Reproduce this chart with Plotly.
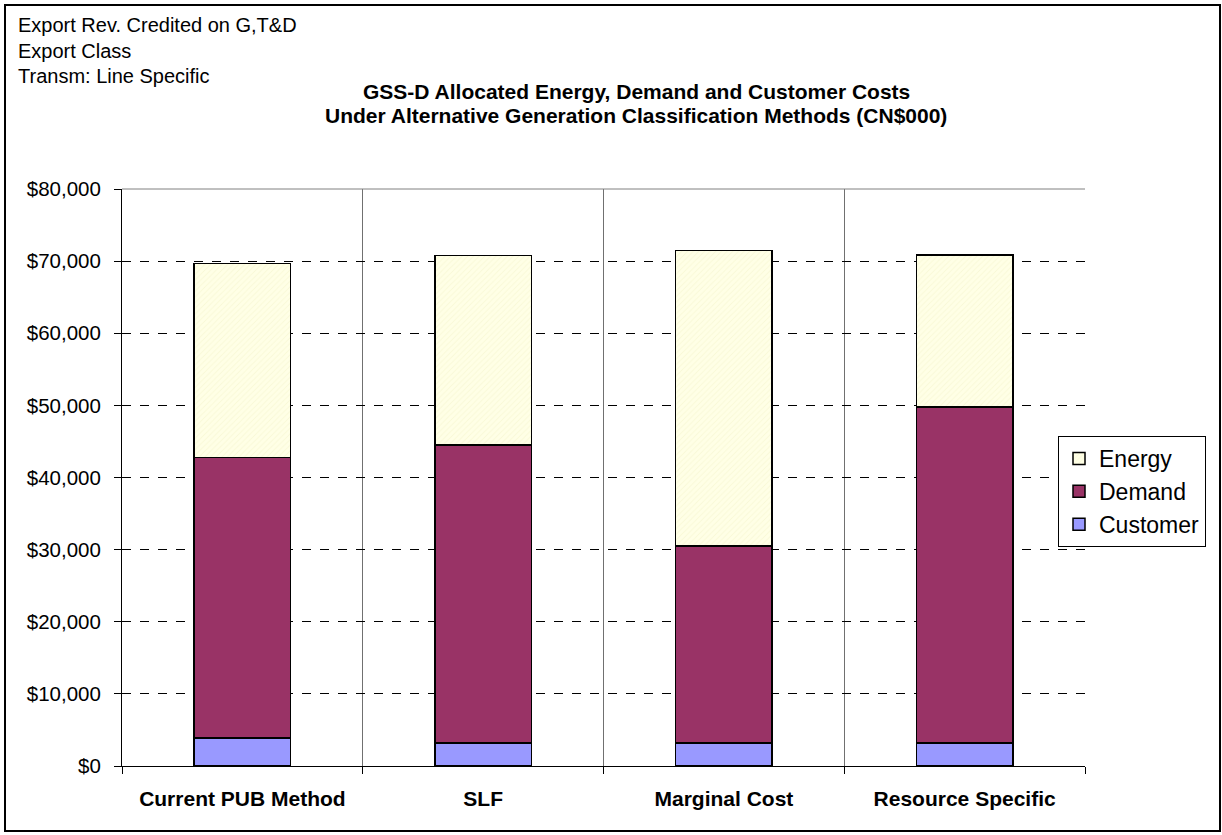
import plotly.graph_objects as go

categories = ["Current PUB Method", "SLF", "Marginal Cost", "Resource Specific"]
customer = [3900, 3200, 3200, 3200]
demand = [38900, 41300, 27300, 46600]
energy = [26900, 26250, 40950, 21050]
y_ticks = [0, 10000, 20000, 30000, 40000, 50000, 60000, 70000, 80000]
y_labels = ["$0", "$10,000", "$20,000", "$30,000", "$40,000", "$50,000", "$60,000", "$70,000", "$80,000"]
notes = ["Export Rev. Credited on G,T&D", "Export Class", "Transm: Line Specific"]
title_lines = ["GSS-D Allocated Energy, Demand and Customer Costs",
               "Under Alternative Generation Classification Methods (CN$000)"]

xpos = list(range(len(categories)))
FONT = "Liberation Sans, Arial, sans-serif"

# plot area in pixels
L, R, T, B = 122, 1085, 189, 766
W, H = 1222, 835
PW, PH = R - L, B - T

def px(x):
    return (x - L) / PW

def py(y):
    return (B - y) / PH

fig = go.Figure()
fig.add_bar(x=xpos, y=customer, name="Customer", legendgroup="c",
            marker=dict(color="#9999FF", line=dict(color="black", width=1.5)))
fig.add_bar(x=xpos, y=demand, name="Demand", legendgroup="d",
            marker=dict(color="#993366", line=dict(color="black", width=1.5)))
fig.add_bar(x=xpos, y=energy, name="Energy", legendgroup="e",
            marker=dict(color="#FFFFE6", line=dict(color="black", width=1.5),
                        pattern=dict(shape="/", fgcolor="#F2F2C8", bgcolor="#FFFFE6",
                                     size=4, solidity=0.25)))

fig.update_layout(
    width=W, height=H,
    barmode="stack", bargap=0.6,
    plot_bgcolor="white", paper_bgcolor="white",
    margin=dict(l=L, r=W - R, t=T, b=H - B),
    font=dict(family=FONT, color="black"),
    showlegend=True,
    legend=dict(x=px(1058), xanchor="left", y=py(436), yanchor="top",
                traceorder="reversed", bordercolor="black", borderwidth=1,
                font=dict(size=23, family=FONT), itemwidth=30,
                tracegroupgap=5, bgcolor="white"),
)

fig.update_xaxes(
    range=[-0.5, 3.5], tickvals=xpos, ticktext=["<b>%s</b>" % c for c in categories],
    ticks="", showgrid=False, showline=True, linecolor="black", linewidth=1,
    tickfont=dict(size=21, family=FONT), zeroline=False, ticklabelstandoff=14,
    minor=dict(tickvals=[-0.5, 0.5, 1.5, 2.5, 3.5], ticks="outside", ticklen=7,
               tickcolor="black", showgrid=True, gridcolor="#707070", gridwidth=1),
)
fig.update_yaxes(
    range=[0, 80000], tickvals=y_ticks, ticktext=y_labels,
    ticks="outside", ticklen=7, tickcolor="black",
    showgrid=True, gridcolor="black", griddash="dash", gridwidth=1,
    showline=True, linecolor="black", linewidth=1, zeroline=False,
    tickfont=dict(size=20.5, family=FONT), ticklabelstandoff=9,
)

# top border of plot area (gray, solid)
fig.add_shape(type="line", xref="x domain", yref="y domain", x0=0, x1=1, y0=1, y1=1,
              line=dict(color="#808080", width=1), layer="above")
# outer chart border
fig.add_shape(type="rect", xref="paper", yref="paper",
              x0=px(5), x1=px(1220), y0=py(831), y1=py(5),
              line=dict(color="black", width=2))

for t, yy in zip(notes, [25.5, 50.5, 75.5]):
    fig.add_annotation(text=t, xref="paper", yref="paper", x=px(16),
                       y=py(yy), xanchor="left", yanchor="middle",
                       showarrow=False, font=dict(size=20, family=FONT))

for t, yy in zip(title_lines, [91, 115.5]):
    fig.add_annotation(text="<b>%s</b>" % t, xref="paper", yref="paper", x=px(636),
                       y=py(yy), xanchor="center", yanchor="middle",
                       showarrow=False, font=dict(size=21, family=FONT))

fig.write_html("out.html", config={"displayModeBar": False},
               post_script="document.body.style.margin='0';")
